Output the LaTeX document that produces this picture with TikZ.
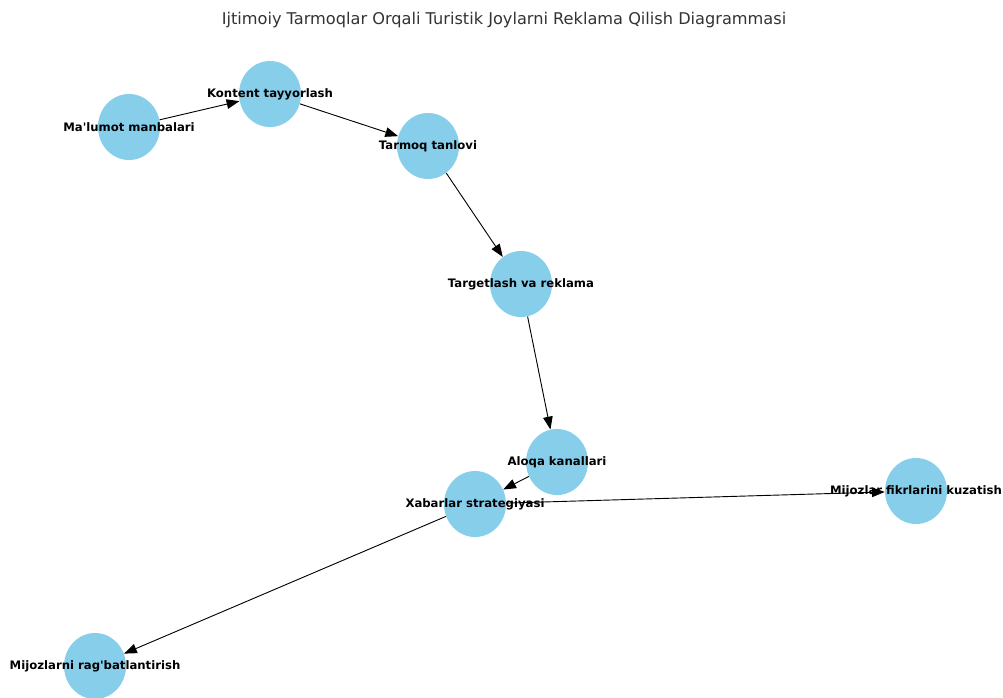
\documentclass[tikz,border=0pt]{standalone}
\usepackage{fontspec}
\setmainfont{DejaVu Sans}[Ligatures=TeXOff]
\usepackage{xcolor}
\usetikzlibrary{arrows.meta,shapes.geometric}

\definecolor{skyblue}{HTML}{87CEEB}
\newcommand{\lblfont}{\fontsize{8.3}{10}\selectfont\bfseries}

\begin{document}
\begin{tikzpicture}[x=0.025cm,y=-0.025cm]
            \tikzstyle{vertex} = [ellipse, fill=skyblue, draw=none, inner sep=0pt, minimum width=1.55cm, minimum height=1.65cm]
            \tikzstyle{edge} = [-{Triangle[length=0.32cm,width=0.24cm]}, line width=0.65pt, black]
            \useasboundingbox (0,0) rectangle (1003,697);

            \node [font=\fontsize{11.5}{13}\selectfont, text=black!80] (title) at (504,20) {Ijtimoiy Tarmoqlar Orqali Turistik Joylarni Reklama Qilish Diagrammasi};

            \node [vertex] (sources) at (129,127) {};
            \node [vertex] (content) at (270,94) {};
            \node [vertex] (network) at (428,146) {};
            \node [vertex] (target) at (521,284) {};
            \node [vertex] (channels) at (557,462) {};
            \node [vertex] (strategy) at (475,504) {};
            \node [vertex] (feedback) at (916,491) {};
            \node [vertex] (reward) at (95,666) {};

            \draw [edge] (sources) -- (content);
            \draw [edge] (content) -- (network);
            \draw [edge] (network) -- (target);
            \draw [edge] (target) -- (channels);
            \draw [edge] (channels) -- (strategy);
            \draw [edge] (strategy) -- (feedback);
            \draw [edge] (strategy) -- (reward);

            \node [font=\lblfont] (sourcesText) at (sources) {Ma'lumot manbalari};
            \node [font=\lblfont] (contentText) at (content) {Kontent tayyorlash};
            \node [font=\lblfont] (networkText) at (network) {Tarmoq tanlovi};
            \node [font=\lblfont] (targetText) at (target) {Targetlash va reklama};
            \node [font=\lblfont] (channelsText) at (channels) {Aloqa kanallari};
            \node [font=\lblfont] (strategyText) at (strategy) {Xabarlar strategiyasi};
            \node [font=\lblfont] (feedbackText) at (feedback) {Mijozlar fikrlarini kuzatish};
            \node [font=\lblfont] (rewardText) at (reward) {Mijozlarni rag'batlantirish};
\end{tikzpicture}
\end{document}
